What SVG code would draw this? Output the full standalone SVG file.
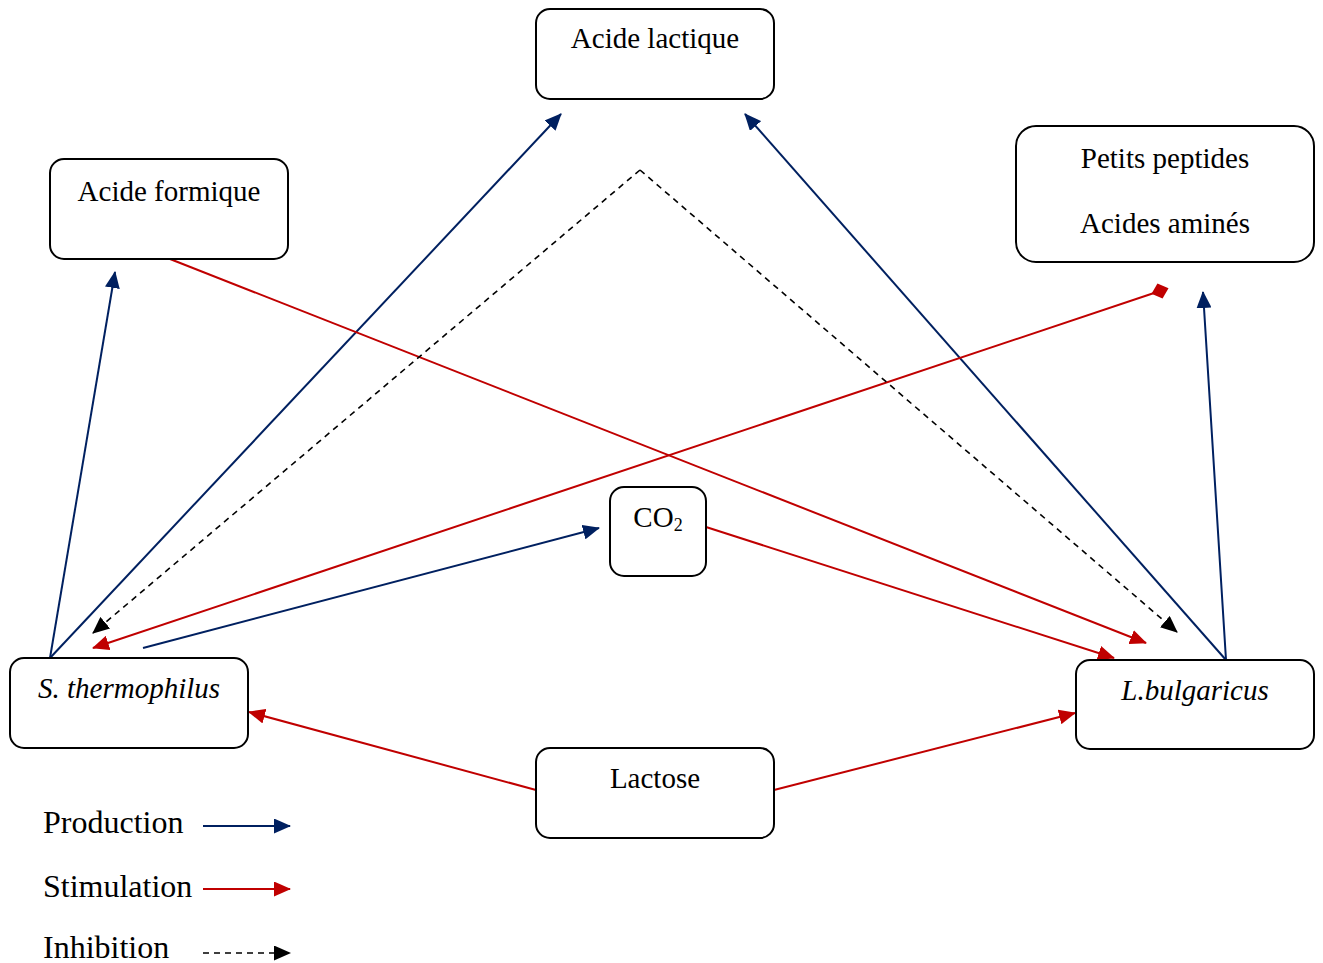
<svg xmlns="http://www.w3.org/2000/svg" width="1323" height="963" viewBox="0 0 1323 963">
<defs>
<style>
.box{fill:#fff;stroke:#000;stroke-width:2}
.t{font-family:"Liberation Serif","Times New Roman",serif;font-size:29px;fill:#000;text-anchor:middle}
.lg{font-family:"Liberation Serif","Times New Roman",serif;font-size:32px;fill:#000}
.b{stroke:#002060;stroke-width:2;fill:none;marker-end:url(#ab)}
.r{stroke:#C00000;stroke-width:2;fill:none;marker-end:url(#ar)}
.k{stroke:#000;stroke-width:1.6;fill:none;stroke-dasharray:6,5}
</style>
<marker id="ab" markerUnits="userSpaceOnUse" markerWidth="17" markerHeight="15" refX="16" refY="7.5" orient="auto"><path d="M0,0 L17,7.5 L0,15 Z" fill="#002060"/></marker>
<marker id="ar" markerUnits="userSpaceOnUse" markerWidth="17" markerHeight="15" refX="16" refY="7.5" orient="auto"><path d="M0,0 L17,7.5 L0,15 Z" fill="#C00000"/></marker>
<marker id="ak" markerUnits="userSpaceOnUse" markerWidth="17" markerHeight="15" refX="16" refY="7.5" orient="auto"><path d="M0,0 L17,7.5 L0,15 Z" fill="#000"/></marker>
<marker id="dr" markerUnits="userSpaceOnUse" markerWidth="18" markerHeight="18" refX="9" refY="9" orient="auto"><path d="M0,9 L9,1 L18,9 L9,17 Z" fill="#C00000"/></marker>
</defs>
<rect width="1323" height="963" fill="#fff"/>
<g id="connectors">
<line class="b" x1="50" y1="658" x2="115" y2="272"/>
<line class="b" x1="50" y1="658" x2="561" y2="114"/>
<line class="b" x1="1226" y1="660" x2="745" y2="114"/>
<line class="b" x1="1226" y1="660" x2="1203" y2="292"/>
<line class="b" x1="143" y1="648" x2="599" y2="528"/>
<line class="r" x1="170" y1="259" x2="1146" y2="643"/>
<line class="r" x1="1160" y1="291" x2="93" y2="648" style="marker-start:url(#dr)"/>
<line class="r" x1="706" y1="527" x2="1114" y2="658"/>
<line class="r" x1="536" y1="790" x2="249" y2="712"/>
<line class="r" x1="774" y1="790" x2="1075" y2="713"/>
<line class="k" x1="640" y1="170" x2="93" y2="633" style="marker-end:url(#ak)"/>
<line class="k" x1="640" y1="170" x2="1177" y2="632" style="marker-end:url(#ak)"/>
</g>
<g id="acide-lactique"><rect class="box" x="536" y="9" width="238" height="90" rx="14"/><text class="t" x="655" y="48">Acide lactique</text></g>
<g id="acide-formique"><rect class="box" x="50" y="159" width="238" height="100" rx="14"/><text class="t" x="169" y="201">Acide formique</text></g>
<g id="peptides"><rect class="box" x="1016" y="126" width="298" height="136" rx="20"/><text class="t" x="1165" y="168">Petits peptides</text><text class="t" x="1165" y="233">Acides aminés</text></g>
<g id="co2"><rect class="box" x="610" y="487" width="96" height="89" rx="14"/><text class="t" x="658" y="527">CO<tspan font-size="18" dy="4">2</tspan></text></g>
<g id="s-thermophilus"><rect class="box" x="10" y="658" width="238" height="90" rx="14"/><text class="t" x="129" y="698" font-style="italic">S. thermophilus</text></g>
<g id="l-bulgaricus"><rect class="box" x="1076" y="660" width="238" height="89" rx="14"/><text class="t" x="1195" y="700" font-style="italic">L.bulgaricus</text></g>
<g id="lactose"><rect class="box" x="536" y="748" width="238" height="90" rx="14"/><text class="t" x="655" y="788">Lactose</text></g>
<g id="legend">
<text class="lg" x="43" y="833">Production</text>
<line class="b" x1="203" y1="826" x2="290" y2="826"/>
<text class="lg" x="43" y="897">Stimulation</text>
<line class="r" x1="203" y1="889" x2="290" y2="889"/>
<text class="lg" x="43" y="958">Inhibition</text>
<line class="k" x1="203" y1="953" x2="290" y2="953" style="marker-end:url(#ak)"/>
</g>
</svg>
